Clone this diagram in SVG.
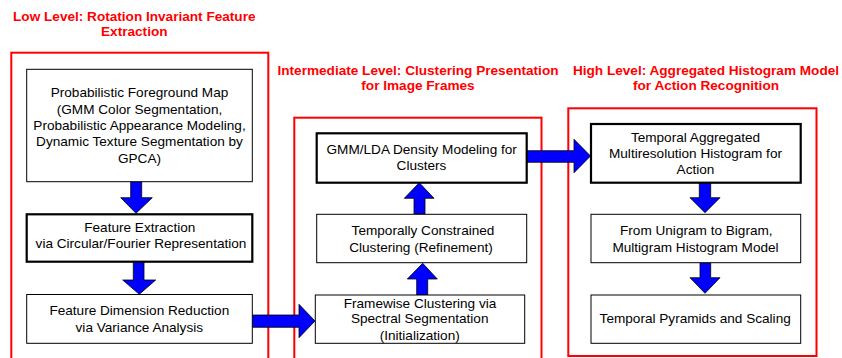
<svg xmlns="http://www.w3.org/2000/svg" width="842" height="358" viewBox="0 0 842 358">
<style>
.title{font-family:"Liberation Sans",Arial,sans-serif;font-size:13.6px;font-weight:bold;fill:#FF0000;text-anchor:middle}
.t{font-family:"Liberation Sans",Arial,sans-serif;font-size:13.6px;fill:#000;text-anchor:middle}
.frame{fill:none;stroke:#FF0000;stroke-width:2}
.box{fill:#fff;stroke:#000;stroke-width:1}
.bold{fill:#fff;stroke:#000;stroke-width:2.2}
.arrow{fill:#0000FF;stroke:#000;stroke-width:0.8;stroke-linejoin:miter}
</style>
<rect width="842" height="358" fill="#fff"/>
<g id="titles">
<text class="title" x="134.3" y="20.5">Low Level: Rotation Invariant Feature</text>
<text class="title" x="134.3" y="36">Extraction</text>
<text class="title" x="418" y="75">Intermediate Level: Clustering Presentation</text>
<text class="title" x="418" y="90">for Image Frames</text>
<text class="title" x="706" y="75">High Level: Aggregated Histogram Model</text>
<text class="title" x="706" y="90">for Action Recognition</text>
</g>
<g id="frames">
<rect class="frame" x="11.3" y="52.7" width="257" height="320"/>
<rect class="frame" x="294.3" y="117.7" width="247.2" height="260"/>
<rect class="frame" x="568.3" y="108.3" width="248.2" height="247.7"/>
</g>
<g id="connectors">
<polygon class="arrow" points="130.7,181.7 141.7,181.7 141.7,197.7 152.3,197.7 136,213.3 120.7,197.7 130.7,197.7"/>
<polygon class="arrow" points="133.3,261.7 144,261.7 144,280 155.7,280 139.3,294.3 122.7,280 133.3,280"/>
<polygon class="arrow" points="252.3,315 299,315 299,304.3 315,321 299,337.7 299,327.3 252.3,327.3"/>
<polygon class="arrow" points="416.7,295 427.7,295 427.7,279 437.3,279 422.7,263.3 407.3,279 416.7,279"/>
<polygon class="arrow" points="414,214 425,214 425,198.3 434,198.3 419.3,182.7 404.3,198.3 414,198.3"/>
<polygon class="arrow" points="526.7,150.7 574,150.7 574,139.3 590.5,156 574,172.7 574,162.3 526.7,162.3"/>
<polygon class="arrow" points="699.3,182.7 710.7,182.7 710.7,197.7 720,197.7 705,212.7 690,197.7 699.3,197.7"/>
<polygon class="arrow" points="700,262.7 710.7,262.7 710.7,277.7 720,277.7 705,293.3 690,277.7 700,277.7"/>
</g>
<g id="node-foreground">
<rect class="box" x="26.7" y="69.3" width="225.6" height="112.4"/>
<text class="t" x="139.5" y="97">Probabilistic Foreground Map</text>
<text class="t" x="139.5" y="113.5">(GMM Color Segmentation,</text>
<text class="t" x="139.5" y="130">Probabilistic Appearance Modeling,</text>
<text class="t" x="139.5" y="146.3">Dynamic Texture Segmentation by</text>
<text class="t" x="139.5" y="162.7">GPCA)</text>
</g>
<g id="node-feature-extraction">
<rect class="bold" x="26.7" y="214.3" width="225.6" height="47.4"/>
<text class="t" x="139.8" y="232">Feature Extraction</text>
<text class="t" x="141" y="248.3">via Circular/Fourier Representation</text>
</g>
<g id="node-dimension-reduction">
<rect class="box" x="26.7" y="294.5" width="225.6" height="48.8"/>
<text class="t" x="139.3" y="315">Feature Dimension Reduction</text>
<text class="t" x="139.3" y="332">via Variance Analysis</text>
</g>
<g id="node-gmm-lda">
<rect class="bold" x="316.7" y="133.3" width="210" height="49.4"/>
<text class="t" x="421.7" y="154">GMM/LDA Density Modeling for</text>
<text class="t" x="421.5" y="170">Clusters</text>
</g>
<g id="node-temporally-constrained">
<rect class="box" x="316.7" y="214.3" width="210" height="48.4"/>
<text class="t" x="423" y="235">Temporally Constrained</text>
<text class="t" x="421" y="251.5">Clustering (Refinement)</text>
</g>
<g id="node-framewise">
<rect class="box" x="315.3" y="295" width="209.4" height="48.3"/>
<text class="t" x="420" y="307.5">Framewise Clustering via</text>
<text class="t" x="419.7" y="323.3">Spectral Segmentation</text>
<text class="t" x="419.7" y="340">(Initialization)</text>
</g>
<g id="node-aggregated-histogram">
<rect class="bold" x="591" y="124" width="209.7" height="58.7"/>
<text class="t" x="695.5" y="141.5">Temporal Aggregated</text>
<text class="t" x="695.5" y="157.7">Multiresolution Histogram for</text>
<text class="t" x="695.5" y="174">Action</text>
</g>
<g id="node-unigram-bigram">
<rect class="box" x="591" y="214.3" width="209.7" height="48.4"/>
<text class="t" x="696.3" y="235">From Unigram to Bigram,</text>
<text class="t" x="695.5" y="251.5">Multigram Histogram Model</text>
</g>
<g id="node-pyramids">
<rect class="box" x="591" y="295" width="209.7" height="48.3"/>
<text class="t" x="695.2" y="323">Temporal Pyramids and Scaling</text>
</g>
</svg>
